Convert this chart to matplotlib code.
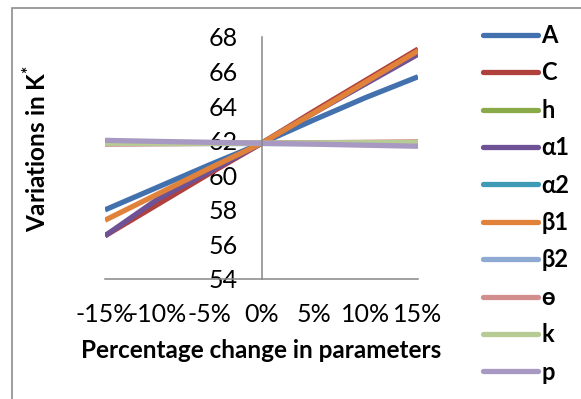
import numpy as np
import matplotlib
matplotlib.use('Agg')
import matplotlib.pyplot as plt
from matplotlib.patches import Rectangle

plt.rcParams['font.family'] = ['Lato', 'DejaVu Sans']
plt.rcParams['mathtext.fontset'] = 'custom'
plt.rcParams['mathtext.rm'] = 'Lato'
plt.rcParams['mathtext.bf'] = 'Lato:bold'

# percentage change applied to each parameter
pct = [-15, -10, -5, 0, 5, 10, 15]
pct_labels = ['-15%', '-10%', '-5%', '0%', '5%', '10%', '15%']

# optimal K* for each perturbed parameter
k_A = [58.0, 59.3, 60.6, 61.85, 63.2, 64.5, 65.7]
k_C = [56.5, 58.3, 60.1, 61.85, 63.7, 65.5, 67.3]
k_h = [61.85, 61.86, 61.86, 61.85, 61.87, 61.88, 61.89]
k_alpha1 = [56.5, 58.6, 60.2, 61.85, 63.6, 65.3, 67.0]
k_alpha2 = [61.85, 61.85, 61.85, 61.85, 61.85, 61.85, 61.85]
k_beta1 = [57.4, 58.9, 60.4, 61.85, 63.6, 65.4, 67.2]
k_beta2 = [61.88, 61.87, 61.86, 61.85, 61.85, 61.84, 61.83]
k_theta = [61.8, 61.82, 61.84, 61.85, 61.88, 61.91, 61.94]
k_k = [61.85, 61.85, 61.85, 61.85, 61.87, 61.89, 61.9]
k_p = [62.02, 61.96, 61.91, 61.85, 61.8, 61.74, 61.68]

names = ['A', 'C', 'h', 'α1', 'α2', 'β1', 'β2', 'ɵ', 'k', 'p']
series = [k_A, k_C, k_h, k_alpha1, k_alpha2, k_beta1, k_beta2, k_theta, k_k, k_p]
colors = ['#4371AE', '#B0403C', '#8AAA4A', '#6E5295', '#3E9AB5',
          '#E0823A', '#8FAAD2', '#D28E8C', '#B7CC95', '#A899C2']

fig = plt.figure(figsize=(5.81, 3.99), dpi=100)
ax = fig.add_axes([105/581, (399-279)/399, (418-105)/581, (279-37)/399])

for vals, name, col in zip(series, names, colors):
    ax.plot(pct, vals, color=col, lw=3.8, label=name, solid_capstyle='butt')

ax.set_xlim(-15, 15)
ax.set_ylim(54, 68)
ax.set_yticks(np.arange(54, 69, 2))
ax.set_xticks(pct)
ax.set_xticklabels(pct_labels)

# vertical axis crosses at 0%
ax.spines['left'].set_position(('data', 0))
ax.spines['right'].set_visible(False)
ax.spines['top'].set_visible(False)
for s in ('left', 'bottom'):
    ax.spines[s].set_color('#868686')
    ax.spines[s].set_linewidth(1.1)
ax.tick_params(axis='y', length=0, pad=17, labelsize=18)
ax.tick_params(axis='x', length=0, pad=17, labelsize=18)
ax.patch.set_alpha(0)

ax.set_xlabel('Percentage change in parameters', fontsize=17.5, fontweight='bold')
ax.xaxis.set_label_coords(0.5, -0.25)
ax.set_ylabel(r'Variations in K$^{\mathbf{*}}$', fontsize=17.5, fontweight='bold')
ax.yaxis.set_label_coords(-0.175, 0.54)

leg = ax.legend(loc='upper left', bbox_to_anchor=(483/581, 1 - 24/399),
                bbox_transform=fig.transFigure, frameon=False, borderpad=0,
                borderaxespad=0, prop={'weight': 'bold', 'size': 17},
                handlelength=2.35, handletextpad=0.12, labelspacing=0.61)
for h in leg.get_lines():
    h.set_solid_capstyle('round')

# chart area border
fig.patches.append(Rectangle((12/581, -0.1), 1.2, 1 - 8/399 + 0.1,
                             transform=fig.transFigure, fill=False,
                             edgecolor='#8C8C8C', lw=1.2))

fig.savefig('out.png', dpi=100)
